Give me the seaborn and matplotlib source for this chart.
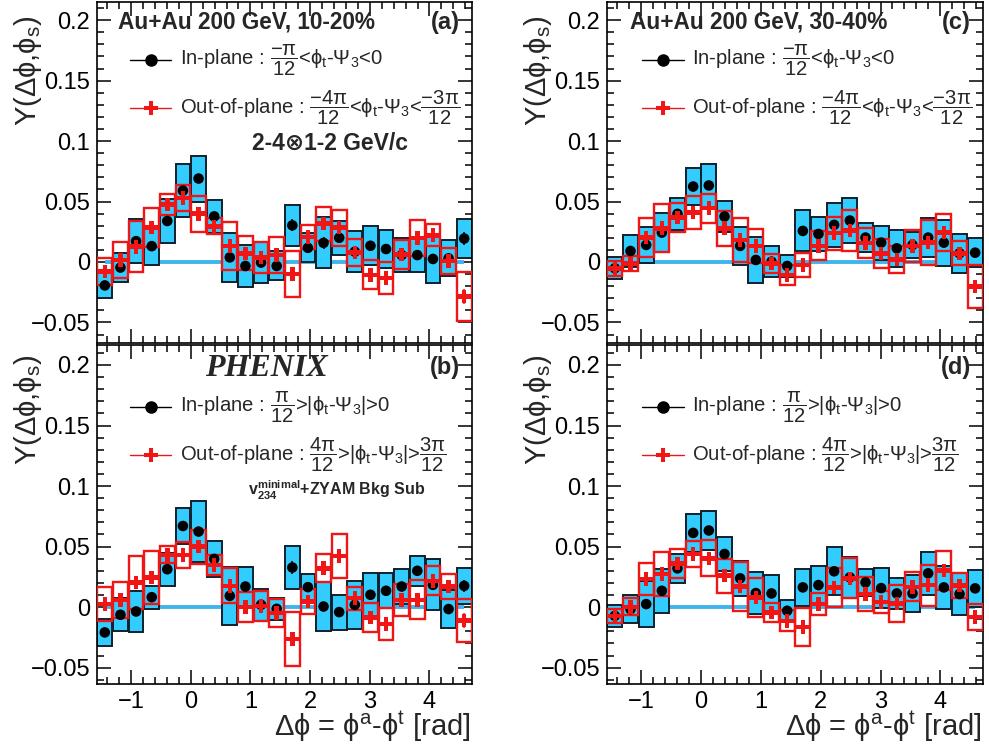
import numpy as np
import matplotlib
matplotlib.use("Agg")
import matplotlib.pyplot as plt
from matplotlib.ticker import MultipleLocator
import seaborn as sns

# ---------------- data ----------------
dphi = [-1.440, -1.178, -0.916, -0.654, -0.393, -0.131, 0.131, 0.393, 0.654, 0.916,
        1.178, 1.440, 1.702, 1.963, 2.225, 2.487, 2.749, 3.011, 3.272, 3.534,
        3.796, 4.058, 4.320, 4.581]
bin_width = 0.2618

a_in = [-0.0194, -0.0046, 0.0172, 0.0131, 0.0339, 0.0590, 0.0690, 0.0377, 0.0038, -0.0033, -0.0005, -0.0033,
        0.0303, 0.0117, 0.0158, 0.0200, 0.0085, 0.0134, 0.0107, 0.0057, 0.0057, 0.0025, 0.0030, 0.0194]
a_in_sys = [0.0105, 0.012, 0.018, 0.016, 0.018, 0.022, 0.019, 0.0137, 0.020, 0.017, 0.017, 0.012,
            0.017, 0.012, 0.021, 0.014, 0.017, 0.016, 0.016, 0.014, 0.014, 0.020, 0.015, 0.016]
a_in_stat = [0.004, 0.004, 0.004, 0.004, 0.004, 0.004, 0.004, 0.004, 0.004, 0.004, 0.004, 0.004,
             0.005, 0.004, 0.005, 0.004, 0.004, 0.004, 0.004, 0.004, 0.004, 0.004, 0.004, 0.005]
a_out = [-0.0079, 0.0016, 0.0126, 0.0284, 0.0475, 0.0530, 0.0399, 0.0295, 0.0131, 0.0071, 0.0038, 0.0057,
         -0.0098, 0.0208, 0.0317, 0.0284, 0.0077, -0.0107, -0.0134, 0.0063, 0.0199, 0.0221, 0.0008, -0.0284]
a_out_sys = [0.011, 0.015, 0.021, 0.016, 0.0085, 0.011, 0.015, 0.0065, 0.020, 0.014, 0.013, 0.015,
             0.019, 0.010, 0.014, 0.015, 0.011, 0.012, 0.013, 0.012, 0.015, 0.009, 0.011, 0.020]
a_out_stat = [0.005, 0.005, 0.005, 0.005, 0.005, 0.005, 0.005, 0.005, 0.005, 0.005, 0.005, 0.005,
              0.006, 0.005, 0.005, 0.005, 0.005, 0.005, 0.005, 0.005, 0.005, 0.005, 0.005, 0.006]

b_in = [-0.0209, -0.0063, -0.0036, 0.0082, 0.0313, 0.0670, 0.0624, 0.0398, 0.0093, 0.0170, 0.0019, -0.0014,
        0.0327, 0.0165, 0.0005, -0.0041, 0.0019, 0.0102, 0.0135, 0.0170, 0.0300, 0.0184, -0.0016, 0.0176]
b_in_sys = [0.0113, 0.0135, 0.017, 0.0095, 0.0135, 0.015, 0.025, 0.015, 0.024, 0.016, 0.013, 0.009,
            0.0175, 0.011, 0.020, 0.0145, 0.020, 0.018, 0.0145, 0.0145, 0.0125, 0.021, 0.016, 0.015]
b_in_stat = [0.004, 0.004, 0.004, 0.004, 0.004, 0.004, 0.004, 0.004, 0.004, 0.004, 0.004, 0.004,
             0.005, 0.004, 0.004, 0.004, 0.004, 0.004, 0.004, 0.004, 0.004, 0.004, 0.004, 0.005]
b_out = [0.0027, 0.0060, 0.0203, 0.0245, 0.0431, 0.0431, 0.0500, 0.0349, 0.0176, 0.0000, 0.0010, -0.0050,
         -0.0264, 0.0047, 0.0321, 0.0423, 0.0074, -0.0085, -0.0140, 0.0060, 0.0060, 0.0217, 0.0170, -0.0110]
b_out_sys = [0.014, 0.015, 0.022, 0.022, 0.007, 0.011, 0.014, 0.008, 0.0145, 0.0125, 0.0125, 0.0115,
             0.022, 0.0105, 0.0115, 0.018, 0.0095, 0.012, 0.013, 0.013, 0.016, 0.012, 0.0105, 0.018]
b_out_stat = [0.005, 0.005, 0.005, 0.005, 0.005, 0.005, 0.005, 0.005, 0.005, 0.005, 0.005, 0.005,
              0.006, 0.005, 0.005, 0.005, 0.005, 0.005, 0.005, 0.005, 0.005, 0.005, 0.005, 0.006]

c_in = [-0.0052, 0.0091, 0.0141, 0.0243, 0.0398, 0.0624, 0.0633, 0.0376, 0.0133, 0.0017, 0.0003, -0.0033,
        0.0257, 0.0232, 0.0307, 0.0343, 0.0202, 0.0160, 0.0113, 0.0141, 0.0202, 0.0160, 0.0072, 0.0077]
c_in_sys = [0.009, 0.0135, 0.015, 0.016, 0.013, 0.015, 0.018, 0.0127, 0.016, 0.019, 0.013, 0.009,
            0.017, 0.014, 0.018, 0.019, 0.012, 0.014, 0.0155, 0.011, 0.016, 0.019, 0.016, 0.012]
c_in_stat = [0.003, 0.003, 0.003, 0.003, 0.003, 0.003, 0.003, 0.003, 0.003, 0.003, 0.003, 0.003,
             0.003, 0.003, 0.003, 0.003, 0.003, 0.003, 0.003, 0.003, 0.003, 0.003, 0.003, 0.003]
c_out = [-0.0052, -0.0011, 0.0204, 0.0279, 0.0367, 0.0409, 0.0445, 0.0279, 0.0182, 0.0133, -0.0011, -0.0108,
         -0.0025, 0.0133, 0.0238, 0.0260, 0.0155, 0.0072, 0.0022, 0.0133, 0.0160, 0.0243, 0.0072, -0.0204]
c_out_sys = [0.006, 0.006, 0.016, 0.020, 0.012, 0.014, 0.012, 0.0145, 0.0185, 0.014, 0.008, 0.008,
             0.010, 0.012, 0.0135, 0.017, 0.0125, 0.012, 0.011, 0.013, 0.0185, 0.015, 0.010, 0.0175]
c_out_stat = [0.004, 0.004, 0.004, 0.004, 0.004, 0.004, 0.004, 0.004, 0.004, 0.004, 0.004, 0.004,
              0.004, 0.004, 0.004, 0.004, 0.004, 0.004, 0.004, 0.004, 0.004, 0.004, 0.004, 0.005]

d_in = [-0.0072, -0.0017, 0.0025, 0.0135, 0.0320, 0.0613, 0.0633, 0.0439, 0.0238, 0.0116, 0.0113, -0.0030,
        0.0163, 0.0182, 0.0296, 0.0246, 0.0204, 0.0157, 0.0113, 0.0113, 0.0279, 0.0163, 0.0108, 0.0155]
d_in_sys = [0.009, 0.0115, 0.019, 0.018, 0.012, 0.016, 0.016, 0.014, 0.0145, 0.017, 0.015, 0.009,
            0.015, 0.016, 0.020, 0.017, 0.011, 0.0165, 0.0125, 0.015, 0.018, 0.018, 0.017, 0.0155]
d_in_stat = [0.003, 0.003, 0.003, 0.003, 0.003, 0.003, 0.003, 0.003, 0.003, 0.003, 0.003, 0.003,
             0.003, 0.003, 0.003, 0.003, 0.003, 0.003, 0.003, 0.003, 0.003, 0.003, 0.003, 0.003]
d_out = [-0.0072, 0.0003, 0.0232, 0.0273, 0.0362, 0.0439, 0.0403, 0.0260, 0.0169, 0.0080, -0.0044, -0.0113,
         -0.0163, 0.0025, 0.0163, 0.0238, 0.0110, 0.0044, 0.0030, 0.0168, 0.0182, 0.0301, 0.0177, -0.0083]
d_out_sys = [0.006, 0.007, 0.0135, 0.0185, 0.012, 0.011, 0.015, 0.014, 0.020, 0.016, 0.0075, 0.0087,
             0.0155, 0.009, 0.016, 0.0165, 0.014, 0.009, 0.015, 0.012, 0.017, 0.016, 0.0105, 0.011]
d_out_stat = [0.004, 0.004, 0.004, 0.004, 0.004, 0.004, 0.004, 0.004, 0.004, 0.004, 0.004, 0.004,
              0.004, 0.004, 0.004, 0.004, 0.004, 0.004, 0.004, 0.004, 0.004, 0.004, 0.004, 0.005]

xticks = [-1, 0, 1, 2, 3, 4]
xticklabels = ["\u22121", "0", "1", "2", "3", "4"]
yticks = [-0.05, 0.0, 0.05, 0.1, 0.15, 0.2]
yticklabels = ["\u22120.05", "0", "0.05", "0.1", "0.15", "0.2"]

panel_labels = ["(a)", "(b)", "(c)", "(d)"]
titles = ["Au+Au 200 GeV, 10-20%", "Au+Au 200 GeV, 30-40%"]
PHI = r"\mathrm{\phi}"
PT = r"$\mathrm{\phi}_{\mathrm{t}}$-$\Psi_{\mathrm{3}}$"
leg_top_in = r"In-plane : $\dfrac{\mathrm{-\pi}}{12}$<" + PT + "<0"
leg_top_out = (r"Out-of-plane : $\dfrac{\mathrm{-4\pi}}{12}$<" + PT +
               r"<$\dfrac{\mathrm{-3\pi}}{12}$")
leg_bot_in = r"In-plane : $\dfrac{\mathrm{\pi}}{12}$>|" + PT + "|>0"
leg_bot_out = (r"Out-of-plane : $\dfrac{\mathrm{4\pi}}{12}$>|" + PT +
               r"|>$\dfrac{\mathrm{3\pi}}{12}$")

# ---------------- style ----------------
sns.set_theme(style="ticks")
plt.rcParams["font.family"] = ["Liberation Sans", "DejaVu Sans"]
plt.rcParams["mathtext.fontset"] = "custom"
plt.rcParams["mathtext.rm"] = "Liberation Sans"
plt.rcParams["mathtext.it"] = "Liberation Sans:italic"
plt.rcParams["mathtext.bf"] = "Liberation Sans:bold"
plt.rcParams["mathtext.sf"] = "Liberation Sans"
plt.rcParams["mathtext.fallback"] = "stixsans"

BLUE = "#33ccff"
BLUE_EDGE = "#10202c"
RED = "#f01616"
ZERO = "#3fb4ec"

fig = plt.figure(figsize=(9.89, 7.46), dpi=100)
W, H = 989.0, 746.0

def add_axes(x0, x1, y0, y1):
    return fig.add_axes([x0 / W, 1 - y1 / H, (x1 - x0) / W, (y1 - y0) / H])

axes = [add_axes(97, 472, 2, 343), add_axes(97, 472, 345, 684),
        add_axes(607, 983, 2, 343), add_axes(607, 983, 345, 684)]
ylims = [(-0.067, 0.215), (-0.0635, 0.2165), (-0.067, 0.215), (-0.0635, 0.2165)]

series = [
    (a_in, a_in_sys, a_in_stat, a_out, a_out_sys, a_out_stat),
    (b_in, b_in_sys, b_in_stat, b_out, b_out_sys, b_out_stat),
    (c_in, c_in_sys, c_in_stat, c_out, c_out_sys, c_out_stat),
    (d_in, d_in_sys, d_in_stat, d_out, d_out_sys, d_out_stat),
]

x = np.array(dphi)
for i, (ax, s) in enumerate(zip(axes, series)):
    yin, sin_, ein, yout, sout, eout = [np.array(v) for v in s]
    w = bin_width * 0.94
    ax.plot([x[0], x[-1]], [0, 0], color=ZERO, lw=2.8, zorder=1, solid_capstyle="butt")
    ax.bar(x, 2 * sin_, bottom=yin - sin_, width=w, color=BLUE, edgecolor=BLUE_EDGE,
           linewidth=1.4, zorder=2)
    ax.bar(x, 2 * sout, bottom=yout - sout, width=w, facecolor="none", edgecolor=RED,
           linewidth=1.7, zorder=3)
    ax.errorbar(x, yin, yerr=ein, fmt="none", ecolor="black", elinewidth=1.1, zorder=4)
    sns.scatterplot(x=x, y=yin, ax=ax, color="black", marker="o", s=58, edgecolor="none",
                    zorder=5, legend=False)
    ax.errorbar(x, yout, yerr=eout, fmt="none", ecolor=RED, elinewidth=1.1, zorder=6)
    sns.scatterplot(x=x, y=yout, ax=ax, color=RED, marker="P", s=95, edgecolor="none",
                    zorder=7, legend=False)

    ax.set_xlim(-np.pi / 2, 3 * np.pi / 2)
    ax.set_ylim(*ylims[i])
    ax.set_xticks(xticks)
    ax.xaxis.set_minor_locator(MultipleLocator(0.2))
    ax.set_yticks(yticks)
    ax.set_yticklabels(yticklabels)
    ax.yaxis.set_minor_locator(MultipleLocator(0.01))
    if i in (1, 3):
        ax.set_xticklabels(xticklabels)
    else:
        ax.set_xticklabels([])
    ax.tick_params(which="both", direction="in", top=True, right=True, colors="black",
                   labelsize=17, width=1.1)
    ax.tick_params(which="major", length=10, pad=5)
    ax.tick_params(which="minor", length=5)
    for sp in ax.spines.values():
        sp.set_visible(True)
        sp.set_linewidth(1.2)
        sp.set_color("black")
    ax.set_xlabel("")
    ax.set_ylabel("")

    top = i in (0, 2)
    # panel label
    ax.text(0.968, 0.941 if top else 0.935, panel_labels[i], transform=ax.transAxes,
            ha="right", va="center", fontsize=17, fontweight="bold")
    # legend rows
    dx = 0.0 if i < 2 else 0.006
    lx0, lx1, tx = 0.088 + dx, 0.198 + dx, 0.221 + dx
    ly1, ly2 = (0.830, 0.689) if top else (0.817, 0.676)
    lm = (lx0 + lx1) / 2
    ax.plot([lx0, lx1], [ly1, ly1], transform=ax.transAxes, color="black", lw=1, zorder=10)
    ax.plot([lm], [ly1], transform=ax.transAxes, marker="o", ms=8, color="black", zorder=11)
    ax.plot([lx0, lx1], [ly2, ly2], transform=ax.transAxes, color=RED, lw=1, zorder=10)
    ax.plot([lm], [ly2], transform=ax.transAxes, marker="P", ms=10, color=RED, mew=0, zorder=11)
    ax.text(tx, ly1, leg_top_in if top else leg_bot_in, transform=ax.transAxes,
            ha="left", va="center", fontsize=14.6)
    ax.text(tx, ly2, leg_top_out if top else leg_bot_out, transform=ax.transAxes,
            ha="left", va="center", fontsize=14.6)

# titles and extra annotations
axes[0].text(0.056, 0.941, titles[0], transform=axes[0].transAxes, ha="left", va="center",
             fontsize=16.3, fontweight="bold")
axes[2].text(0.061, 0.941, titles[1], transform=axes[2].transAxes, ha="left", va="center",
             fontsize=16.3, fontweight="bold")
axes[0].text(0.413, 0.586, "2-4\u22971-2 GeV/c", transform=axes[0].transAxes, ha="left",
             va="center", fontsize=16.5, fontweight="bold",
             family=["Liberation Sans", "DejaVu Sans"])
axes[1].text(0.453, 0.932, "PHENIX", transform=axes[1].transAxes, ha="center", va="center",
             fontsize=23, fontweight="bold", fontstyle="italic", family="Liberation Serif")
axes[1].text(0.403, 0.572, r"$\mathbf{v}_{\mathbf{234}}^{\mathbf{minimal}}$+ZYAM Bkg Sub",
             transform=axes[1].transAxes, ha="left", va="center", fontsize=11.5, fontweight="bold")

# axis titles
ylab = r"Y($\Delta" + PHI + r"$,$" + PHI + r"_{\mathrm{s}}$)"
for yt in (15, 354):
    for xl in (28, 538):
        fig.text(xl / W, 1 - yt / H, ylab, rotation=90, ha="center", va="top", fontsize=21)
xlab = (r"$\Delta" + PHI + r"$ = $" + PHI + r"^{\mathrm{a}}$-$" + PHI +
        r"^{\mathrm{t}}$ [rad]")
for xr in (471, 982):
    fig.text(xr / W, 1 - 744 / H, xlab, ha="right", va="bottom", fontsize=21)

fig.savefig("out.png", dpi=100)
